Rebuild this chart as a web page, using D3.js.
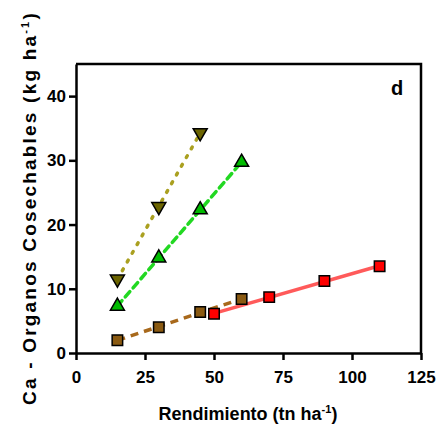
<!DOCTYPE html>
<html>
<head>
<meta charset="utf-8">
<script src="https://cdnjs.cloudflare.com/ajax/libs/d3/7.8.5/d3.min.js"></script>
<style>
body { margin: 0; background: #fff; }
text { font-family: "Liberation Sans Narrow", "Arial Narrow", "Liberation Sans", Arial, sans-serif; font-weight: bold; }
</style>
</head>
<body>
<div id="chart"></div>
<script>
// data
var xTicks = [0, 25, 50, 75, 100, 125];
var yTicks = [0, 10, 20, 30, 40];

var olivX = [15, 30, 45];
var olivY = [11.5, 22.8, 34.3];
var greenX = [15, 30, 45, 60];
var greenY = [7.3, 14.8, 22.3, 29.7];
var brownX = [15, 30, 45, 60];
var brownY = [2.0, 4.0, 6.4, 8.4];
var redX = [50, 70, 90, 110];
var redY = [6.1, 8.7, 11.2, 13.5];

var W = 442, H = 438;
var margin = {top: 64, right: 21, bottom: 85, left: 76};

var svg = d3.select("#chart").append("svg")
    .attr("width", W).attr("height", H);

var xScale = d3.scaleLinear().domain([0, 125]).range([margin.left, W - margin.right]);
var yScale = d3.scaleLinear().domain([0, 45]).range([H - margin.bottom, margin.top]);

// least squares line over each series
function fit(xs, ys) {
    var mx = d3.mean(xs), my = d3.mean(ys);
    var num = d3.sum(xs, (x, i) => (x - mx) * (ys[i] - my));
    var den = d3.sum(xs, x => (x - mx) * (x - mx));
    var b = num / den, a = my - b * mx;
    var x0 = d3.min(xs), x1 = d3.max(xs);
    return [[x0, a + b * x0], [x1, a + b * x1]];
}

var line = d3.line().x(d => xScale(d[0])).y(d => yScale(d[1]));

var series = [
    {xs: olivX, ys: olivY, stroke: "#aaa020", dash: "2,8", cap: "round", sym: "tridown", fill: "#6b6400"},
    {xs: greenX, ys: greenY, stroke: "#22d822", dash: "7,5", cap: "round", sym: "triup", fill: "#00bb00"},
    {xs: redX, ys: redY, stroke: "#ff5a5a", dash: null, cap: "butt", sym: "square", fill: "#ff0000"},
    {xs: brownX, ys: brownY, stroke: "#a8691c", dash: "8,6", cap: "butt", sym: "square", fill: "#8a5a12"}
];

series.forEach(s => {
    svg.append("path")
       .attr("d", line(fit(s.xs, s.ys)))
       .attr("fill", "none")
       .attr("stroke", s.stroke)
       .attr("stroke-width", 3.5)
       .attr("stroke-linecap", s.cap)
       .attr("stroke-dasharray", s.dash);
});

var symSquare = d3.symbol().type(d3.symbolSquare).size(110);
var symTri = d3.symbol().type(d3.symbolTriangle).size(85);

series.forEach(s => {
    svg.selectAll(null)
       .data(s.xs.map((x, i) => [x, s.ys[i]]))
       .enter().append("path")
       .attr("d", s.sym == "square" ? symSquare() : symTri())
       .attr("transform", d => "translate(" + xScale(d[0]) + "," + yScale(d[1]) + ")" +
             (s.sym == "tridown" ? " rotate(180)" : ""))
       .attr("fill", s.fill)
       .attr("stroke", "#000")
       .attr("stroke-width", 1.5);
});

// frame top and right
svg.append("path")
   .attr("d", "M" + xScale(0) + "," + yScale(45) + "H" + xScale(125) + "V" + yScale(0))
   .attr("fill", "none")
   .attr("stroke", "#000")
   .attr("stroke-width", 2.5);

var xAxis = svg.append("g")
   .attr("transform", "translate(0," + yScale(0) + ")")
   .call(d3.axisBottom(xScale).tickValues(xTicks).tickSize(7).tickPadding(11).tickSizeOuter(0));

var yAxis = svg.append("g")
   .attr("transform", "translate(" + xScale(0) + ",0)")
   .call(d3.axisLeft(yScale).tickValues(yTicks).tickSize(7).tickPadding(3).tickSizeOuter(0));

[xAxis, yAxis].forEach(g => {
    g.select(".domain").attr("stroke-width", 2.5);
    g.selectAll(".tick line").attr("stroke-width", 2.5);
    g.selectAll(".tick text").attr("font-size", 17).attr("fill", "#000")
     .style("font-family", "'Liberation Sans Narrow', 'Arial Narrow', sans-serif");
});

svg.append("text")
   .attr("x", 248).attr("y", 420)
   .attr("text-anchor", "middle")
   .attr("font-size", 18)
   .html("Rendimiento (tn ha<tspan dy='-7' font-size='11'>-1</tspan><tspan dy='7'>)</tspan>");

svg.append("text")
   .attr("transform", "translate(36,208) rotate(-90)")
   .attr("text-anchor", "middle")
   .attr("font-size", 19)
   .attr("letter-spacing", 2.2)
   .style("font-family", "'Liberation Sans', Arial, sans-serif")
   .html("Ca - Organos Cosechables (kg ha<tspan dy='-7' font-size='11'>-1</tspan><tspan dy='7'>)</tspan>");

svg.append("text")
   .attr("x", 397).attr("y", 95)
   .attr("text-anchor", "middle")
   .attr("font-size", 20)
   .style("font-family", "'Liberation Sans', Arial, sans-serif")
   .text("d");
</script>
</body>
</html>
